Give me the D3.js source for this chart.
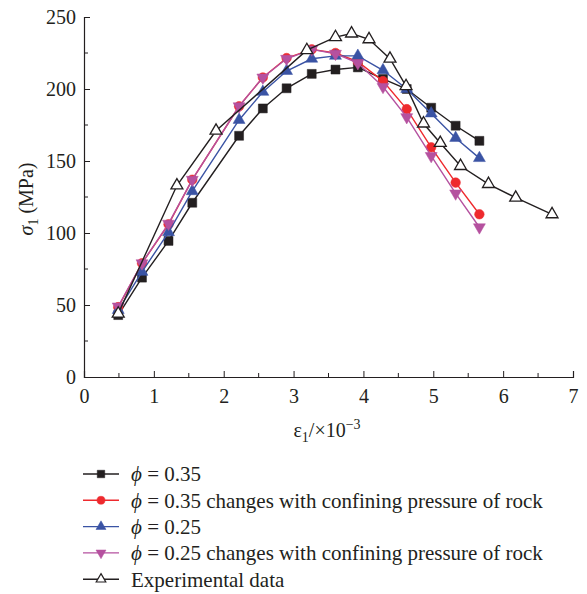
<!DOCTYPE html>
<html>
<head>
<meta charset="utf-8">
<script src="https://cdn.jsdelivr.net/npm/d3@7"></script>
<style>
  body { margin: 0; background: #fff; }
  text { font-family: "Liberation Serif", "Times New Roman", serif; fill: #231f20; }
</style>
</head>
<body>
<div id="chart"></div>
<script>
// strain (x 10^-3) shared by the four model curves
const modelStrain = [0.49, 0.83, 1.21, 1.55, 2.22, 2.56, 2.9, 3.26, 3.6, 3.92, 4.28, 4.62, 4.97, 5.32, 5.66];
const phi35 = [43, 69, 94.5, 121, 167.5, 186.5, 200.5, 210.5, 213.5, 215, 207, 200, 187, 174.5, 164];
const phi35Conf = [48.5, 79, 106, 137, 188, 208, 221.5, 227.5, 225, 219, 205.5, 186, 159.5, 135, 113];
const phi25 = [46.5, 73, 100.5, 129, 178.5, 198, 212.5, 221, 223, 223, 213, 200, 183, 166, 152];
const phi25Conf = [49, 79, 106.5, 137, 188, 208, 221, 227.5, 224.5, 218, 201.5, 180.5, 153.5, 127.5, 104];
const expStrain = [0.49, 1.33, 1.89, 3.19, 3.6, 3.83, 4.08, 4.38, 4.61, 4.86, 5.1, 5.39, 5.79, 6.18, 6.7];
const expStress = [44, 133, 171, 227, 236, 238.5, 234.5, 221, 202, 176, 162.5, 146.5, 134, 124.5, 113];

const xTicks = [0, 1, 2, 3, 4, 5, 6, 7];
const yTicks = [0, 50, 100, 150, 200, 250];

const legendLabels = [
  ["\u03d5", " = 0.35"],
  ["\u03d5", " = 0.35 changes with confining pressure of rock"],
  ["\u03d5", " = 0.25"],
  ["\u03d5", " = 0.25 changes with confining pressure of rock"],
  ["", "Experimental data"]
];

const series = [
  {x: modelStrain, y: phi35, color: "#231f20", shape: d3.symbolSquare, size: 80, rot: 0, hollow: false},
  {x: modelStrain, y: phi35Conf, color: "#ee2a2e", shape: d3.symbolCircle, size: 72, rot: 0, hollow: false},
  {x: modelStrain, y: phi25, color: "#3a53a4", shape: d3.symbolTriangle, size: 62, rot: 0, hollow: false},
  {x: modelStrain, y: phi25Conf, color: "#b5519f", shape: d3.symbolTriangle, size: 62, rot: 180, hollow: false},
  {x: expStrain, y: expStress, color: "#231f20", shape: d3.symbolTriangle, size: 62, rot: 0, hollow: true}
];

const W = 587, H = 594;
const margin = {top: 17, left: 84};
const width = 489, height = 360;

const svg = d3.select("#chart").append("svg")
  .attr("width", W)
  .attr("height", H);

const g = svg.append("g")
  .attr("transform", `translate(${margin.left},${margin.top})`);

const x = d3.scaleLinear().domain([0, 7]).range([0, width]);
const y = d3.scaleLinear().domain([0, 250]).range([height, 0]);

// axes: ticks point inward
const xAxis = d3.axisBottom(x).tickValues(xTicks).tickFormat(d3.format("d")).tickSize(-6).tickPadding(12);
const yAxis = d3.axisLeft(y).tickValues(yTicks).tickFormat(d3.format("d")).tickSize(-6).tickPadding(8);

const gx = g.append("g")
  .attr("transform", `translate(0,${height})`)
  .call(xAxis);
const gy = g.append("g").call(yAxis);

// minor ticks
gx.selectAll(".minor")
  .data(d3.range(0.5, 7, 1))
  .enter().append("line")
  .attr("x1", d => x(d)).attr("x2", d => x(d))
  .attr("y1", 0).attr("y2", -4)
  .attr("stroke", "#231f20");
gy.selectAll(".minor")
  .data(d3.range(25, 250, 50))
  .enter().append("line")
  .attr("y1", d => y(d)).attr("y2", d => y(d))
  .attr("x1", 0).attr("x2", 4)
  .attr("stroke", "#231f20");

[gx, gy].forEach(a => {
  a.select(".domain").attr("stroke", "#231f20").attr("stroke-width", 1.2);
  a.selectAll(".tick line").attr("stroke", "#231f20");
  a.selectAll(".tick text")
    .attr("font-family", "Liberation Serif")
    .attr("font-size", 20)
    .attr("fill", "#231f20");
});

// y title
const yt = svg.append("text")
  .attr("transform", "translate(33,199) rotate(-90)")
  .attr("text-anchor", "middle")
  .attr("font-size", 20);
yt.append("tspan").attr("font-style", "italic").text("\u03c3");
yt.append("tspan").attr("font-size", 14).attr("dy", 5).text("1");
yt.append("tspan").attr("dy", -5).text(" (MPa)");

// x title
const xt = svg.append("text")
  .attr("x", 327).attr("y", 437)
  .attr("text-anchor", "middle")
  .attr("font-size", 20);
xt.append("tspan").text("\u03b5");
xt.append("tspan").attr("font-size", 14).attr("dy", 5).text("1");
xt.append("tspan").attr("dy", -5).text("/\u00d710");
xt.append("tspan").attr("font-size", 14).attr("dy", -8).text("\u22123");

const line = d3.line();

series.forEach(s => {
  const pts = s.x.map((v, i) => [x(v), y(s.y[i])]);
  g.append("path")
    .attr("d", line(pts))
    .attr("fill", "none")
    .attr("stroke", s.color)
    .attr("stroke-width", 1.4);
  g.selectAll(null)
    .data(pts)
    .enter().append("path")
    .attr("d", d3.symbol().type(s.shape).size(s.size))
    .attr("transform", d => `translate(${d[0]},${d[1]}) rotate(${s.rot})`)
    .attr("fill", s.hollow ? "#fff" : s.color)
    .attr("stroke", s.color)
    .attr("stroke-width", s.hollow ? 1.3 : 0.5);
});

// legend
const legend = svg.append("g").attr("transform", "translate(83,474)");
series.forEach((s, i) => {
  const row = legend.append("g").attr("transform", `translate(0,${i * 26.3})`);
  row.append("line")
    .attr("x1", 0).attr("x2", 36)
    .attr("stroke", s.color)
    .attr("stroke-width", 1.4);
  row.append("path")
    .attr("d", d3.symbol().type(s.shape).size(s.hollow ? 40 : s.size * 0.7))
    .attr("transform", `translate(18,0) rotate(${s.rot})`)
    .attr("fill", s.hollow ? "#fff" : s.color)
    .attr("stroke", s.color)
    .attr("stroke-width", s.hollow ? 1.2 : 0.5);
  const t = row.append("text")
    .attr("x", 48).attr("y", 0)
    .attr("dy", "0.35em")
    .attr("font-size", 21);
  if (legendLabels[i][0]) t.append("tspan").attr("font-style", "italic").text(legendLabels[i][0]);
  t.append("tspan").text(legendLabels[i][1]);
});
</script>
</body>
</html>
